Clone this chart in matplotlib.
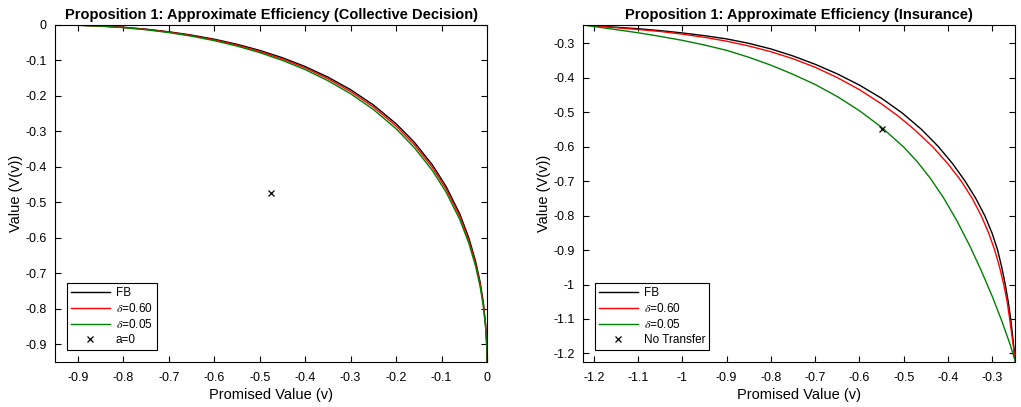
import matplotlib
matplotlib.use("Agg")
import matplotlib.pyplot as plt
from matplotlib.ticker import FuncFormatter

# ---- left panel: collective decision ----
cd_x = [-0.95, -0.90, -0.85, -0.80, -0.75, -0.70, -0.65, -0.60, -0.55, -0.50,
        -0.45, -0.40, -0.35, -0.30, -0.25, -0.20, -0.16, -0.12, -0.09, -0.06,
        -0.04, -0.025, -0.015, -0.008, -0.003, -0.001, -0.0002, 0.0]
cd_fb = [0.0, -0.0007, -0.0028, -0.0064, -0.0118, -0.0191, -0.0284, -0.0400,
         -0.0543, -0.0716, -0.0923, -0.1171, -0.1468, -0.1823, -0.2253, -0.2783,
         -0.3303, -0.3947, -0.4553, -0.5324, -0.6002, -0.6669, -0.7262, -0.7837,
         -0.8462, -0.8894, -0.9226, -0.95]
cd_d60 = [0.0, -0.0007, -0.0030, -0.0068, -0.0125, -0.0201, -0.0298, -0.0418,
          -0.0566, -0.0744, -0.0957, -0.1210, -0.1513, -0.1875, -0.2311, -0.2846,
          -0.3371, -0.4019, -0.4625, -0.5395, -0.6070, -0.6731, -0.7317, -0.7883,
          -0.8496, -0.8917, -0.9238, -0.95]
cd_d05 = [0.0, -0.0008, -0.0032, -0.0074, -0.0134, -0.0213, -0.0315, -0.0441,
          -0.0594, -0.0778, -0.0998, -0.1258, -0.1569, -0.1938, -0.2381, -0.2924,
          -0.3454, -0.4106, -0.4713, -0.5482, -0.6152, -0.6807, -0.7384, -0.7939,
          -0.8537, -0.8944, -0.9253, -0.95]
cd_point = (-0.475, -0.475)

# ---- right panel: insurance ----
ins_fb_x = [-1.2247, -1.2, -1.15, -1.1, -1.05, -1.0, -0.95, -0.9, -0.85, -0.8,
            -0.75, -0.7, -0.65, -0.6, -0.55, -0.503, -0.46, -0.4217, -0.3892,
            -0.3614, -0.3373, -0.3169, -0.3006, -0.2878, -0.2784, -0.2705,
            -0.2638, -0.2582, -0.2539, -0.2496, -0.2474]
ins_fb_y = [-0.2474, -0.2496, -0.2539, -0.2582, -0.2638, -0.2705, -0.2784,
            -0.2878, -0.3006, -0.3169, -0.3373, -0.3614, -0.3892, -0.4217,
            -0.46, -0.503, -0.55, -0.6, -0.65, -0.7, -0.75, -0.8, -0.85, -0.9,
            -0.95, -1.0, -1.05, -1.1, -1.15, -1.2, -1.2247]
ins_d60_x = [-1.2247, -1.2, -1.15, -1.1, -1.05, -1.0, -0.95, -0.9, -0.85, -0.8,
             -0.75, -0.7, -0.65, -0.6, -0.55, -0.512, -0.4764, -0.435, -0.400,
             -0.370, -0.3453, -0.325, -0.3082, -0.2944, -0.2832, -0.274,
             -0.2662, -0.2605, -0.2552, -0.2500, -0.2474]
ins_d60_y = [-0.2474, -0.2500, -0.2552, -0.2605, -0.2662, -0.274, -0.2832,
             -0.2944, -0.3082, -0.325, -0.3453, -0.370, -0.400, -0.435, -0.4764,
             -0.512, -0.55, -0.6, -0.65, -0.7, -0.75, -0.8, -0.85, -0.9, -0.95,
             -1.0, -1.05, -1.1, -1.15, -1.2, -1.2247]
ins_d05_x = [-1.2247, -1.2, -1.15, -1.1, -1.05, -1.0, -0.95, -0.9, -0.85, -0.8,
             -0.75, -0.7, -0.65, -0.6, -0.55, -0.5, -0.47, -0.44, -0.41, -0.38,
             -0.35, -0.325, -0.30, -0.28, -0.26, -0.2474]
ins_d05_y = [-0.2474, -0.2518, -0.2608, -0.2700, -0.2805, -0.2920, -0.3055,
             -0.3210, -0.3410, -0.3640, -0.3905, -0.4200, -0.4550, -0.4960,
             -0.5440, -0.6015, -0.6430, -0.6916, -0.7486, -0.8146, -0.8896,
             -0.9591, -1.0341, -1.1001, -1.1721, -1.2247]
ins_point = (-0.55, -0.55)

plt.rcParams.update({
    "font.family": "Liberation Sans",
    "font.size": 9,
    "mathtext.fontset": "stix",
    "axes.linewidth": 0.8,
    "xtick.direction": "in",
    "ytick.direction": "in",
    "xtick.top": True,
    "ytick.right": True,
    "xtick.major.size": 4,
    "ytick.major.size": 4,
})

fig = plt.figure(figsize=(10.21, 4.07), dpi=100)
ax1 = fig.add_axes([0.0539, 0.1106, 0.4231, 0.828])
ax2 = fig.add_axes([0.5710, 0.1106, 0.4236, 0.828])

fmt = FuncFormatter(lambda v, p: f"{v:g}" if abs(v) > 1e-9 else "0")


def panel(ax, curves, point, point_label, lim, ticks, title):
    for xs, ys, col, lab in curves:
        ax.plot(xs, ys, color=col, lw=1.0, label=lab)
    ax.plot([point[0]], [point[1]], "x", color="black", ms=5, mew=0.9,
            label=point_label)
    ax.set_xlim(*lim)
    ax.set_ylim(*lim)
    ax.set_xticks(ticks)
    ax.set_yticks(ticks)
    ax.xaxis.set_major_formatter(fmt)
    ax.yaxis.set_major_formatter(fmt)
    ax.tick_params(axis="x", labelsize=9, width=0.8, pad=7)
    ax.tick_params(axis="y", labelsize=9, width=0.8, pad=6)
    ax.set_xlabel("Promised Value (v)", fontsize=10.5, labelpad=3)
    ax.set_ylabel("Value (V(v))", fontsize=10.5, labelpad=1.5)
    ax.set_title(title, fontsize=10.5, fontweight="bold", pad=4)
    leg = ax.legend(loc="lower left", fontsize=8.5, handlelength=3.3,
                    fancybox=False, framealpha=1, edgecolor="black",
                    borderaxespad=1.0, labelspacing=0.25, handletextpad=0.5,
                    borderpad=0.35)
    leg.get_frame().set_linewidth(0.8)


panel(ax1,
      [(cd_x, cd_fb, "black", "FB"),
       (cd_x, cd_d60, "#ff0000", r"$\delta$=0.60"),
       (cd_x, cd_d05, "#008000", r"$\delta$=0.05")],
      cd_point, "a=0", (-0.95, 0.0),
      [-0.9, -0.8, -0.7, -0.6, -0.5, -0.4, -0.3, -0.2, -0.1, 0.0],
      "Proposition 1: Approximate Efficiency (Collective Decision)")

panel(ax2,
      [(ins_fb_x, ins_fb_y, "black", "FB"),
       (ins_d60_x, ins_d60_y, "#ff0000", r"$\delta$=0.60"),
       (ins_d05_x, ins_d05_y, "#008000", r"$\delta$=0.05")],
      ins_point, "No Transfer", (-1.2247, -0.2474),
      [-1.2, -1.1, -1.0, -0.9, -0.8, -0.7, -0.6, -0.5, -0.4, -0.3],
      "Proposition 1: Approximate Efficiency (Insurance)")

fig.savefig("out.png", dpi=100)
